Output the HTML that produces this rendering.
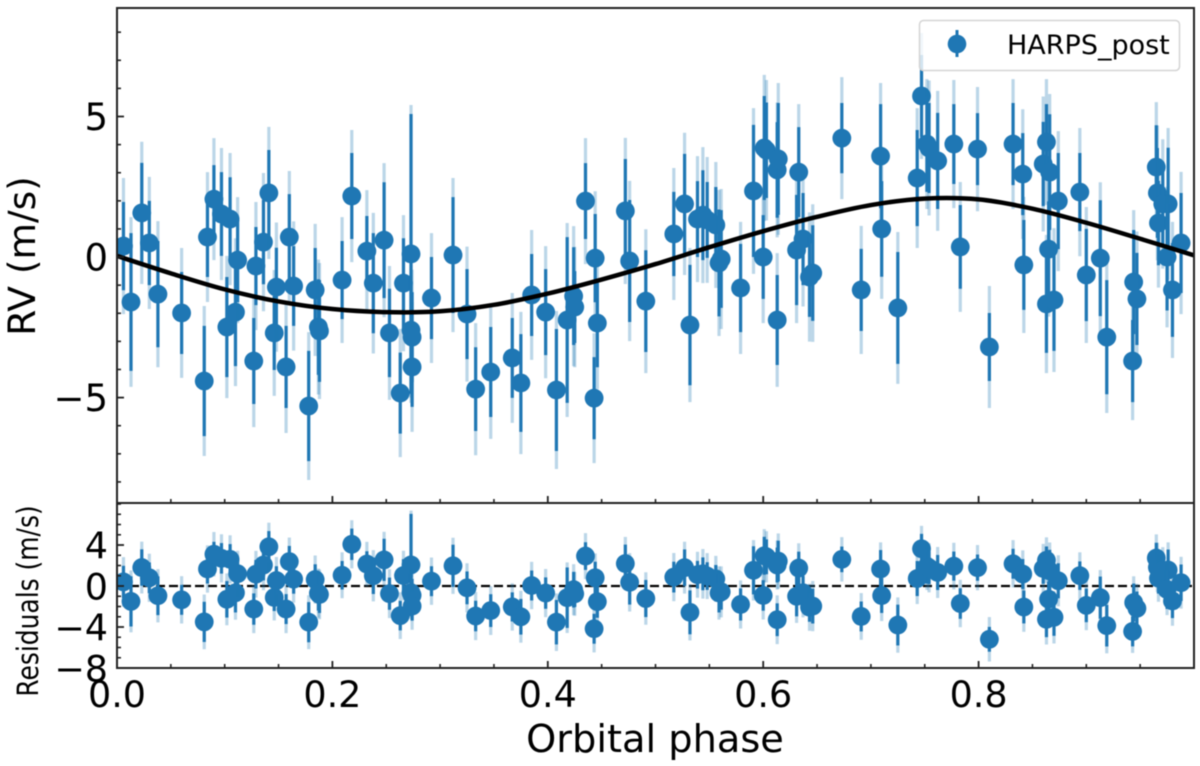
<!DOCTYPE html>
<html lang="en">
<head>
<meta charset="utf-8">
<title>RV phase curve</title>
<style>
html,body{margin:0;padding:0;background:#fff;}
#chart{display:block;width:1200px;height:766px;font-family:"DejaVu Sans","Liberation Sans",sans-serif;filter:blur(0.5px);}
</style>
</head>
<body>
<svg id="chart" xmlns="http://www.w3.org/2000/svg" width="1200" height="766" viewBox="0 0 1200 766">
  <rect x="0" y="0" width="1200" height="766" fill="#ffffff"/>
  <defs>
    <clipPath id="clip-top"><rect x="117" y="8" width="1077" height="495"/></clipPath>
    <clipPath id="clip-res"><rect x="117" y="503" width="1077" height="165"/></clipPath>
  </defs>
  <g id="top-marks" clip-path="url(#clip-top)"></g>
  <g id="res-marks" clip-path="url(#clip-res)"></g>
  <g id="axes"></g>
  <g>
    <rect x="919.5" y="20.5" width="260" height="50" rx="4" ry="4" fill="#ffffff" fill-opacity="0.8" stroke="#d4d4d4" stroke-width="1.5"/>
    <line x1="957" y1="30" x2="957" y2="57" stroke="#1f77b4" stroke-width="3"/>
    <circle cx="957" cy="44" r="9.3" fill="#1f77b4"/>
    <text x="1007" y="54" font-size="27" fill="#000">HARPS_post</text>
  </g>
  <text transform="translate(35,256) rotate(-90)" text-anchor="middle" font-size="37.5" fill="#000">RV (m/s)</text>
  <text transform="translate(38,601) rotate(-90) scale(0.86,1)" text-anchor="middle" font-size="29" fill="#000">Residuals (m/s)</text>
  <text x="655" y="752" text-anchor="middle" font-size="38.3" fill="#000">Orbital phase</text>
</svg>
<script>
const phases = [.006,.013,.023,.030,.038,.060,.081,.084,.090,.097,.102,.105,.110,.112,.127,.129,.136,.141,.146,.148,.157,.160,.164,.178,.184,.187,.188,.209,.218,.232,.238,.248,.253,.263,.266,.273,.273,.274,.274,.292,.312,.325,.333,.347,.367,.375,.385,.398,.408,.418,.424,.425,.435,.443,.444,.446,.472,.476,.491,.517,.527,.532,.539,.544,.548,.556,.559,.561,.579,.591,.600,.601,.603,.613,.613,.614,.631,.633,.637,.643,.646,.673,.691,.709,.710,.725,.743,.747,.752,.754,.762,.777,.783,.799,.810,.832,.841,.842,.860,.863,.863,.865,.866,.870,.874,.894,.900,.913,.919,.943,.944,.947,.965,.966,.967,.971,.976,.975,.980,.988];
const rvValues = [.39,-1.60,1.57,.50,-1.32,-1.99,-4.41,.71,2.06,1.53,-2.49,1.35,-1.96,-.11,-3.70,-.32,.53,2.28,-2.70,-1.07,-3.91,.71,-1.03,-5.30,-1.17,-2.49,-2.63,-.82,2.17,.21,-.93,.60,-2.70,-4.84,-.93,.11,-2.60,-2.85,-3.91,-1.46,.07,-2.03,-4.70,-4.09,-3.59,-4.48,-1.35,-1.96,-4.73,-2.24,-1.39,-1.78,1.99,-5.02,-.04,-2.35,1.64,-.14,-1.57,.82,1.89,-2.42,1.35,1.49,1.32,1.14,-.21,-.07,-1.10,2.35,0,3.88,3.80,-2.24,3.10,3.49,.25,3.02,.64,-.71,-.57,4.23,-1.17,3.59,1.00,-1.81,2.81,5.73,4.02,3.88,3.42,4.02,.36,3.84,-3.20,4.02,2.95,-.28,3.31,4.09,-1.67,.28,3.02,-1.53,1.99,2.31,-.64,-.04,-2.85,-3.70,-.89,-1.49,3.20,2.28,1.21,1.89,1.89,0,-1.17,.50];
const innerErrors = [1.57,2.45,1.78,1.50,1.89,1.46,1.96,1.42,1.21,1.49,1.78,1.49,1.92,1.50,1.53,1.39,1.50,1.53,1.32,1.40,1.46,1.53,1.42,1.96,1.49,1.70,1.81,1.39,1.53,1.25,1.78,2.06,1.57,1.44,1.60,4.98,1.60,1.60,1.42,1.46,2.06,1.60,1.49,1.60,1.42,1.74,1.46,1.53,2.17,2.95,1.74,1.28,1.35,1.46,1.57,1.57,1.85,2.17,1.81,1.50,1.78,2.14,1.35,1.60,1.35,1.35,1.90,1.74,1.57,2.35,1.49,1.85,1.70,1.60,1.70,1.99,1.96,1.60,1.64,1.42,1.70,1.25,1.46,1.85,1.70,1.99,1.71,1.46,1.70,1.60,1.71,1.42,1.49,1.28,1.21,1.46,1.46,1.60,1.50,1.35,1.74,1.70,2.06,1.81,1.71,1.39,1.64,2.06,2.03,1.46,1.85,1.64,1.49,1.60,1.50,1.50,2.00,1.90,1.67,1.78];
const outerErrors = [2.42,3.02,2.53,2.35,2.60,2.31,2.67,2.31,2.17,2.35,2.53,2.35,2.63,2.24,2.35,2.28,2.46,2.35,2.24,2.30,2.35,2.35,2.30,2.63,2.35,2.40,2.42,2.24,2.35,2.17,2.50,2.74,2.38,2.28,2.42,5.30,2.40,2.40,2.31,2.31,2.74,2.40,2.35,2.38,2.31,2.53,2.31,2.35,2.81,3.45,2.49,2.14,2.24,2.31,2.38,2.35,2.60,2.85,2.56,2.35,2.53,2.74,2.24,2.42,2.24,2.24,2.60,2.49,2.35,2.95,2.35,2.60,2.50,2.38,2.40,2.70,2.60,2.42,2.40,2.30,2.45,2.17,2.28,2.60,2.49,2.70,2.49,2.24,2.31,2.40,2.49,2.28,2.31,2.21,2.17,2.31,2.31,2.42,2.40,2.24,2.46,2.40,2.78,2.56,2.49,2.28,2.42,2.70,2.70,2.10,2.56,2.40,2.31,2.40,2.30,2.30,2.70,2.50,2.42,2.53];
const residualValues = [.40,-1.50,1.80,.80,-.95,-1.35,-3.50,1.66,3.10,2.70,-1.30,2.60,-.66,1.20,-2.25,1.15,2.05,3.83,-1.12,.53,-2.25,2.38,.67,-3.53,.63,-.70,-.82,1.05,4.07,2.14,1.00,2.55,-.75,-2.89,1.02,2.06,-.65,-.90,-1.96,.47,1.97,-.18,-2.93,-2.40,-2.04,-3.00,.05,-.69,-3.53,-1.14,-.36,-.76,2.92,-4.17,.80,-1.53,2.19,.36,-1.22,.87,1.79,-2.57,1.10,1.19,.97,.70,-.68,-.57,-1.80,1.53,-.92,2.95,2.85,-3.29,2.05,2.43,-1.00,1.75,-.66,-2.07,-1.96,2.60,-2.97,1.66,-.93,-3.81,.73,3.63,1.92,1.78,1.32,1.94,-1.71,1.79,-5.20,2.17,1.17,-2.05,1.71,2.51,-3.25,-1.28,1.47,-3.05,.51,1.01,-1.89,-1.14,-3.87,-4.43,-1.61,-2.18,2.73,1.82,.76,1.49,1.56,-.34,-1.46,.32];
const modelPhases = [0,.05,.1,.15,.2,.25,.3,.35,.4,.45,.5,.55,.6,.65,.7,.75,.8,.85,.9,.95,1];
const modelValues = [.04,-.58,-1.15,-1.58,-1.85,-1.96,-1.93,-1.7,-1.3,-.8,-.25,.35,.92,1.43,1.85,2.08,2.05,1.72,1.22,.65,.06];
const xMajorTicks = [0,.2,.4,.6,.8];
const xMajorLabels = ["0.0","0.2","0.4","0.6","0.8"];
const xMinorTicks = [.05,.1,.15,.25,.3,.35,.45,.5,.55,.65,.7,.75,.85,.9,.95];
const rvMajorTicks = [-5,0,5];
const rvMajorLabels = ["\u22125","0","5"];
const rvMinorTicks = [-8,-7,-6,-4,-3,-2,-1,1,2,3,4,6,7,8];
const resMajorTicks = [-8,-4,0,4];
const resMajorLabels = ["\u22128","\u22124","0","4"];
const resMinorTicks = [-7,-6,-5,-3,-2,-1,1,2,3,5,6,7,8];

const NS = 'http://www.w3.org/2000/svg';
const BLUE = '#1f77b4';
const INK = '#222222';
const xScale = p => 117 + 1077 * p;
const rvScale = v => 503 - (v + 8.75) * (495 / 17.61);
const resScale = v => 668 - (v + 8) * (165 / 16.1);

function make(parent, tag, attrs) {
  const el = document.createElementNS(NS, tag);
  for (const k in attrs) el.setAttribute(k, attrs[k]);
  parent.appendChild(el);
  return el;
}
function drawPoints(parent, values, yScale, prefix) {
  phases.forEach((p, i) => {
    const x = xScale(p), v = values[i];
    const outer = make(parent, 'line', {x1:x, x2:x, y1:yScale(v + outerErrors[i]), y2:yScale(v - outerErrors[i]), stroke:BLUE, 'stroke-opacity':.3, 'stroke-width':3.2});
    
    
    const inner = make(parent, 'line', {x1:x, x2:x, y1:yScale(v + innerErrors[i]), y2:yScale(v - innerErrors[i]), stroke:BLUE, 'stroke-width':3.2});
    
    
    const dot = make(parent, 'circle', {cx:x, cy:yScale(v), r:9.4, fill:BLUE});
    
    
  });
}
function smoothPath(xs, ys) {
  let d = 'M' + xs[0] + ' ' + ys[0];
  for (let i = 0; i < xs.length - 1; i++) {
    const a = Math.max(i - 1, 0), b = Math.min(i + 2, xs.length - 1);
    const c1x = xs[i] + (xs[i+1] - xs[a]) / 6, c1y = ys[i] + (ys[i+1] - ys[a]) / 6;
    const c2x = xs[i+1] - (xs[b] - xs[i]) / 6, c2y = ys[i+1] - (ys[b] - ys[i]) / 6;
    d += ' C' + c1x + ' ' + c1y + ' ' + c2x + ' ' + c2y + ' ' + xs[i+1] + ' ' + ys[i+1];
  }
  return d;
}

const topMarks = document.getElementById('top-marks');
const resMarks = document.getElementById('res-marks');
const axes = document.getElementById('axes');

const zeroLine = make(resMarks, 'line', {x1:xScale(0), x2:xScale(1), y1:resScale(0), y2:resScale(0), stroke:'#000', 'stroke-width':2.2, 'stroke-dasharray':'9 4'});



drawPoints(topMarks, rvValues, rvScale, 'rv');
drawPoints(resMarks, residualValues, resScale, 'residual');

const modelLine = make(topMarks, 'path', {d:smoothPath(modelPhases.map(xScale), modelValues.map(rvScale)), fill:'none', stroke:'#000', 'stroke-width':4.5});



function xTicks(yBase, labels) {
  xMajorTicks.forEach(t => {
    const tick = make(axes, 'line', {x1:xScale(t), x2:xScale(t), y1:yBase, y2:yBase - 7, stroke:INK, 'stroke-width':1.8});
    
    
  });
  xMinorTicks.forEach(t => {
    const tick = make(axes, 'line', {x1:xScale(t), x2:xScale(t), y1:yBase, y2:yBase - 4, stroke:INK, 'stroke-width':1.6});
    
    
  });
  if (labels) xMajorTicks.forEach((t, i) => {
    const label = make(axes, 'text', {x:xScale(t), y:707, 'text-anchor':'middle', 'font-size':36.5, fill:'#000'});
    label.textContent = xMajorLabels[i];
    
    
  });
}
function yTicks(major, labels, minor, scale, fontSize) {
  major.forEach((t, i) => {
    const tick = make(axes, 'line', {x1:117, x2:124, y1:scale(t), y2:scale(t), stroke:INK, 'stroke-width':1.8});
    
    
    const label = make(axes, 'text', {x:108, y:scale(t) + fontSize * 0.365, 'text-anchor':'end', 'font-size':fontSize, fill:'#000'});
    label.textContent = labels[i];
    
    
  });
  minor.forEach(t => {
    const tick = make(axes, 'line', {x1:117, x2:121, y1:scale(t), y2:scale(t), stroke:INK, 'stroke-width':1.6});
    
    
  });
}
xTicks(503, false);
xTicks(668, true);
yTicks(rvMajorTicks, rvMajorLabels, rvMinorTicks, rvScale, 37);
yTicks(resMajorTicks, resMajorLabels, resMinorTicks, resScale, 36.5);

const topFrame = make(axes, 'rect', {x:117, y:8, width:1077, height:495, fill:'none', stroke:INK, 'stroke-width':2});


const resFrame = make(axes, 'rect', {x:117, y:503, width:1077, height:165, fill:'none', stroke:INK, 'stroke-width':2});


</script>
</body>
</html>
